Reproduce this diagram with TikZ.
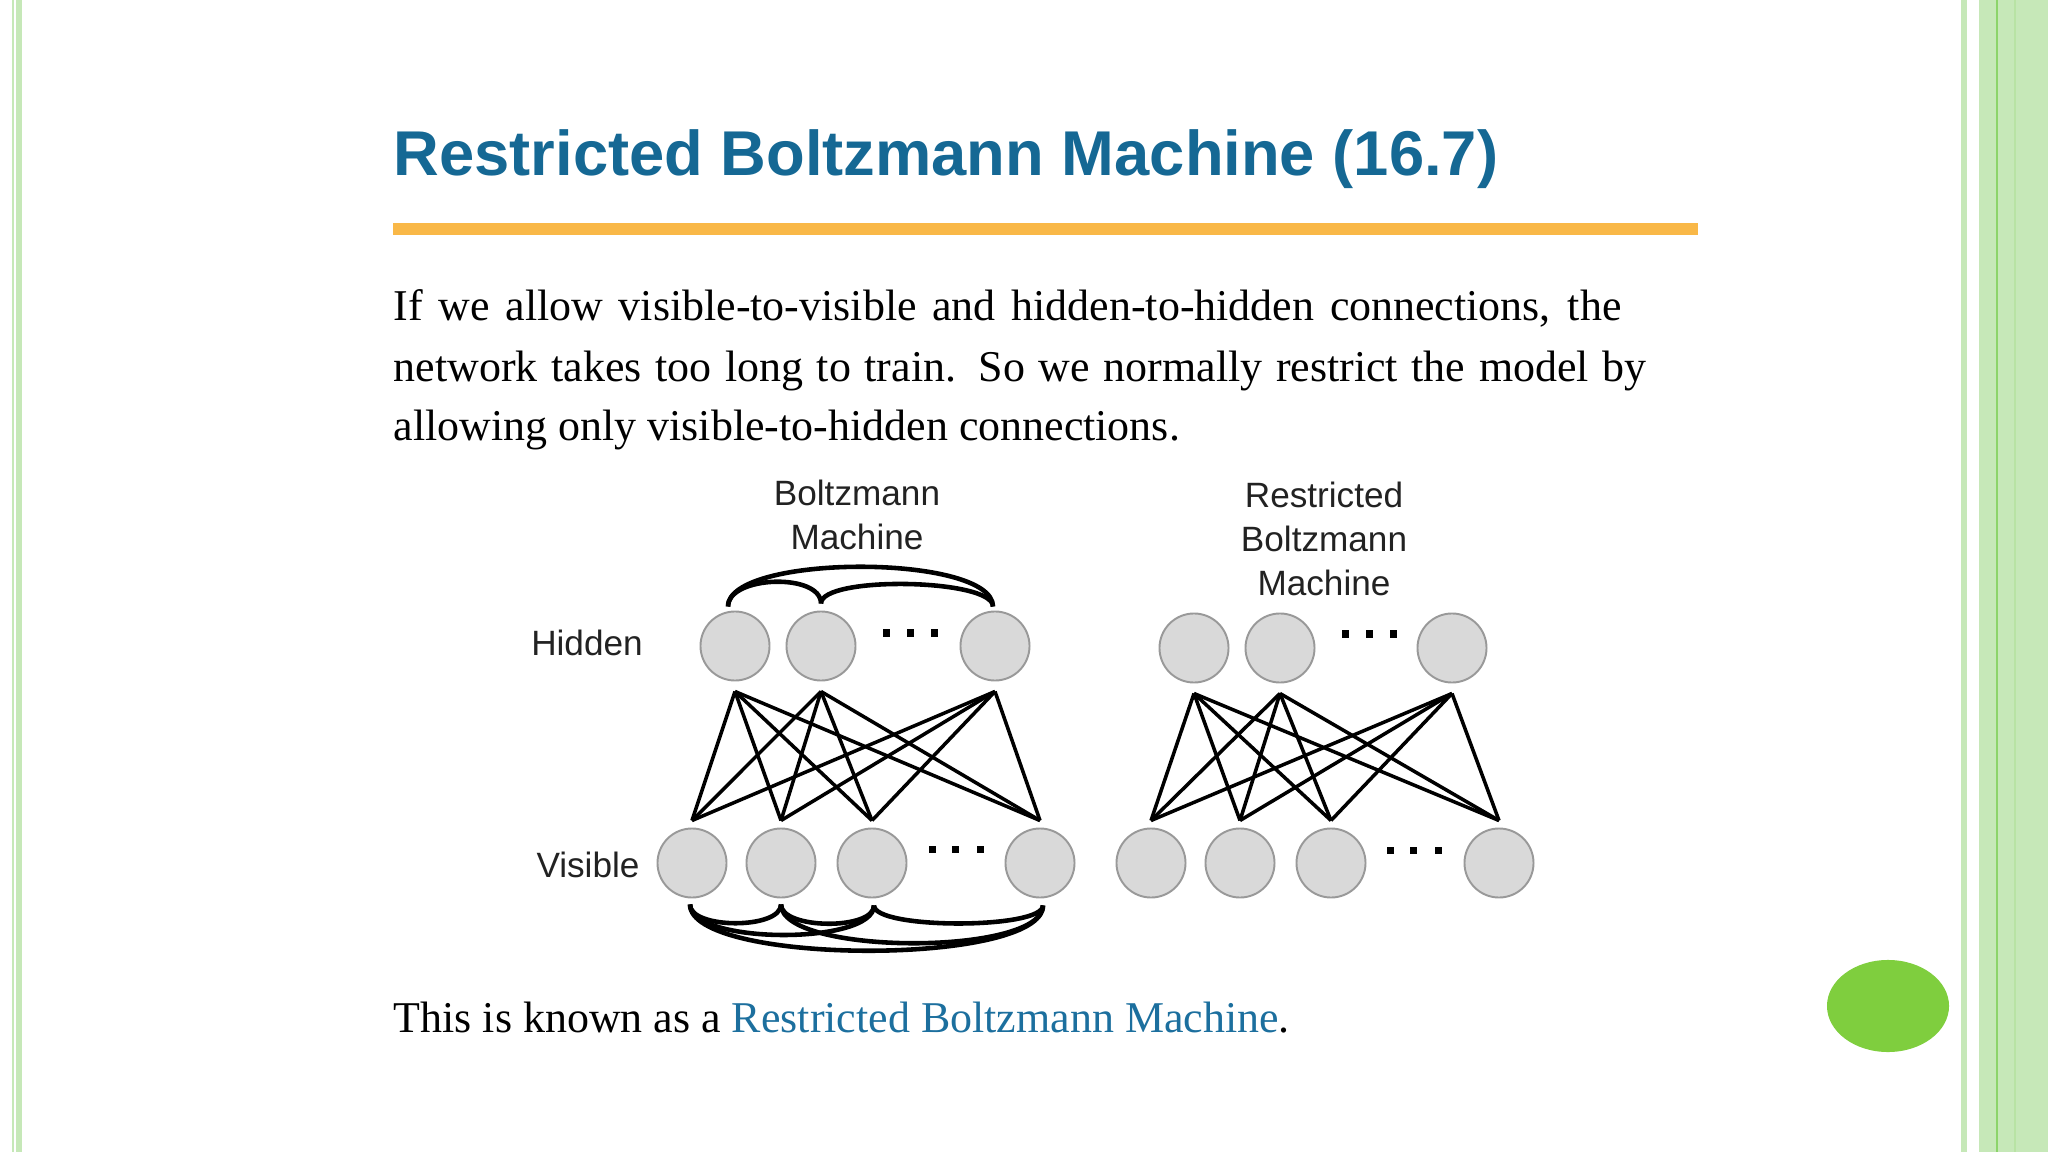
\documentclass[tikz,border=0pt]{standalone}
\usepackage{fontspec}
\setmainfont{Liberation Serif}
\setsansfont{Liberation Sans}
\usetikzlibrary{calc}
\definecolor{titleblue}{HTML}{156894}
\definecolor{linkblue}{HTML}{1C6F9E}
\definecolor{barorange}{HTML}{F9B848}
\definecolor{stripegreen}{HTML}{C6E8B8}
\definecolor{linegreen}{HTML}{8CD46A}
\definecolor{dotgreen}{HTML}{7FCE3E}
\definecolor{unitfill}{HTML}{D9D9D9}
\definecolor{unitdraw}{HTML}{999999}
\definecolor{labelgray}{HTML}{222222}
\tikzset{
  unit/.style={circle, draw=unitdraw, fill=unitfill, line width=0.55pt, minimum size=0.69cm, inner sep=0pt},
  wire/.style={line width=1pt},
  lateral/.style={line width=1.3pt},
  ellipsisdot/.style={rectangle, fill=black, minimum size=0.07cm, inner sep=0pt},
  layerlabel/.style={font=\sffamily\fontsize{10}{12.5}\selectfont, text=labelgray, align=center},
  bodyline/.style={anchor=base west, inner sep=0pt, font=\fontsize{12.5}{15}\selectfont}
}
\begin{document}
\begin{tikzpicture}[x=0.01cm, y=-0.01cm]
  \useasboundingbox (0,0) rectangle (2048,1152);
  % slide frame
  \fill[stripegreen] (12,0) rectangle (14,1152);
  \fill[stripegreen] (16,0) rectangle (22,1152);
  \fill[stripegreen] (1961,0) rectangle (1967,1152);
  \fill[stripegreen] (1979,0) rectangle (2048,1152);
  \draw[linegreen, line width=0.6pt] (1997,0) -- (1997,1152);
  \draw[stripegreen!75!linegreen, line width=0.4pt] (2015,0) -- (2015,1152);
  \fill[dotgreen] (1888,1006) ellipse [x radius=0.61cm, y radius=0.46cm];

  % title and text
  \node[anchor=base west, inner sep=0pt, font=\sffamily\bfseries\fontsize{18}{22}\selectfont, text=titleblue] (title) at (393,176) {Restricted Boltzmann Machine (16.7)};
  \fill[barorange] (393,223) rectangle (1698,235);
  \node[bodyline] (para-1) at (393,321) {\makebox[12.27cm][s]{If we allow visible-to-visible and hidden-to-hidden connections, the}};
  \node[bodyline] (para-2) at (393,382) {\makebox[12.52cm][s]{network takes too long to train. So we normally restrict the model by}};
  \node[bodyline] (para-3) at (393,441) {allowing only visible-to-hidden connections.};
  \node[bodyline] (closing) at (393,1032) {This is known as a \textcolor{linkblue}{Restricted Boltzmann Machine}.};

  % Boltzmann machine
  \node[layerlabel] (bm-title) at (857,515) {Boltzmann\\Machine};
  \node[layerlabel] (hidden-label) at (587,643) {Hidden};
  \node[layerlabel] (visible-label) at (588,865) {Visible};
  \foreach \name/\x in {bh1/735, bh2/821, bh3/995}
    \node[unit] (\name) at (\x,646) {};
  \foreach \name/\x in {bv1/692, bv2/781, bv3/872, bv4/1040}
    \node[unit] (\name) at (\x,863) {};
  \foreach \x [count=\i] in {886,910,934}
    \node[ellipsisdot] (bh-dot\i) at (\x,633) {};
  \foreach \x [count=\i] in {932,955,980}
    \node[ellipsisdot] (bv-dot\i) at (\x,849) {};
  \foreach \h in {bh1,bh2,bh3}
    \foreach \v in {bv1,bv2,bv3,bv4}
      \draw[wire] ($(\h.south)+(0,10)$) -- ($(\v.north)+(0,-7)$);
  \coordinate (bh1-top) at ($(bh1.north)+(-7,-4)$);
  \coordinate (bh2-top) at ($(bh2.north)+(0,-7)$);
  \coordinate (bh3-top) at ($(bh3.north)+(-2,-4)$);
  \draw[lateral] (bh1-top) .. controls +(0,-31) and +(0,-31) .. (bh2-top);
  \draw[lateral] (bh2-top) .. controls +(0,-28) and +(0,-28) .. (bh3-top);
  \draw[lateral] (bh1-top) .. controls +(0,-53) and +(0,-53) .. (bh3-top);
  \coordinate (bv1-bot) at ($(bv1.south)+(-2,6)$);
  \coordinate (bv2-bot) at ($(bv2.south)+(0,6)$);
  \coordinate (bv3-bot) at ($(bv3.south)+(2,7)$);
  \coordinate (bv4-bot) at ($(bv4.south)+(3,7)$);
  \draw[lateral] (bv1-bot) .. controls +(0,25) and +(0,25) .. (bv2-bot);
  \draw[lateral] (bv2-bot) .. controls +(0,25) and +(0,25) .. (bv3-bot);
  \draw[lateral] (bv3-bot) .. controls +(0,24) and +(0,24) .. (bv4-bot);
  \draw[lateral] (bv1-bot) .. controls +(0,40) and +(0,40) .. (bv3-bot);
  \draw[lateral] (bv2-bot) .. controls +(0,51) and +(0,51) .. (bv4-bot);
  \draw[lateral] (bv1-bot) .. controls +(0,61) and +(0,61) .. (bv4-bot);

  % Restricted Boltzmann machine
  \node[layerlabel] (rbm-title) at (1324,539) {Restricted\\Boltzmann\\Machine};
  \foreach \name/\x in {rh1/1194, rh2/1280, rh3/1452}
    \node[unit] (\name) at (\x,648) {};
  \foreach \name/\x in {rv1/1151, rv2/1240, rv3/1331, rv4/1499}
    \node[unit] (\name) at (\x,863) {};
  \foreach \x [count=\i] in {1345,1369,1393}
    \node[ellipsisdot] (rh-dot\i) at (\x,634) {};
  \foreach \x [count=\i] in {1390,1413,1438}
    \node[ellipsisdot] (rv-dot\i) at (\x,850) {};
  \foreach \h in {rh1,rh2,rh3}
    \foreach \v in {rv1,rv2,rv3,rv4}
      \draw[wire] ($(\h.south)+(0,10)$) -- ($(\v.north)+(0,-7)$);
\end{tikzpicture}
\end{document}
